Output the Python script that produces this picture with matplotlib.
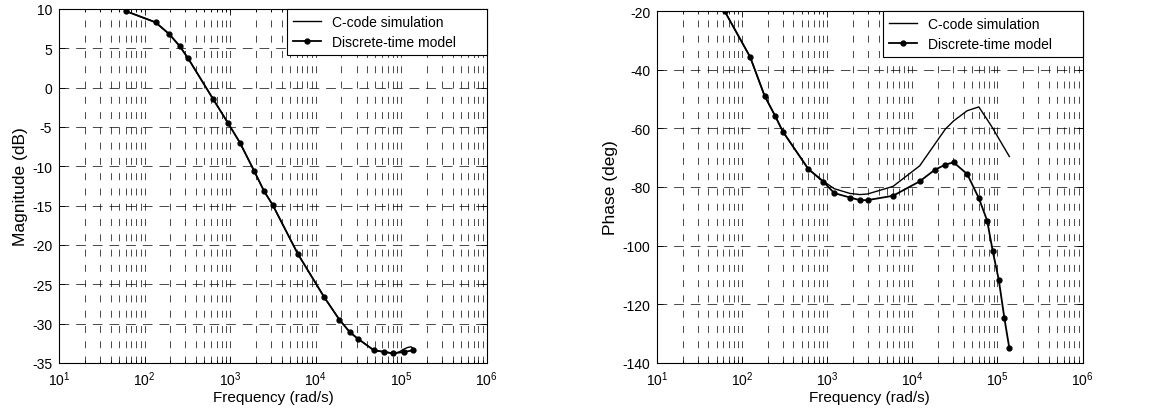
"""Bode plot: C-code simulation vs discrete-time model."""

import matplotlib

matplotlib.use("Agg")
import matplotlib.pyplot as plt
from matplotlib.ticker import LogLocator, MultipleLocator, NullLocator

plt.rcParams["font.family"] = ["Liberation Sans", "DejaVu Sans"]
plt.rcParams["font.size"] = 10
plt.rcParams["mathtext.fontset"] = "custom"
plt.rcParams["mathtext.rm"] = "Liberation Sans"
plt.rcParams["mathtext.it"] = "Liberation Sans"
plt.rcParams["axes.unicode_minus"] = False
plt.rcParams["lines.scale_dashes"] = False

# Magnitude (dB), discrete-time model markers
mag_freq = [61, 134, 194, 258, 323, 631, 942, 1300, 1897, 2500, 3135, 6150,
            12500, 18900, 25100, 30900, 47900, 63400, 81000, 108000, 138000]
mag_model = [9.7, 8.3, 6.8, 5.25, 3.7, -1.45, -4.5, -7.0, -10.55, -13.2, -14.9, -21.1,
             -26.6, -29.5, -31.1, -31.9, -33.4, -33.6, -33.8, -33.6, -33.4]

# Magnitude (dB), C-code simulation
mag_sim_freq = [61, 134, 194, 258, 323, 631, 942, 1300, 1897, 2500, 3135, 6150,
                12500, 18900, 25100, 30900, 47900, 63400, 81000, 95000, 105000,
                118000, 130000, 140000]
mag_sim = [9.7, 8.3, 6.8, 5.25, 3.7, -1.45, -4.5, -7.0, -10.55, -13.2, -14.9, -21.1,
           -26.6, -29.5, -31.1, -31.9, -33.4, -33.6, -33.8, -33.6, -33.3,
           -33.05, -32.95, -33.2]

# Phase (deg), discrete-time model markers
ph_freq = [62, 124, 183, 244, 300, 599, 897, 1208, 1845, 2414, 2972, 5930,
           12190, 18270, 24380, 30500, 44100, 60400, 75700, 88200, 103700,
           120800, 138000]
ph_model = [-20, -35.7, -48.9, -55.8, -61.1, -73.9, -78.2, -82.1, -83.6, -84.5, -84.5, -83.0,
            -78.1, -74.2, -72.4, -71.6, -75.6, -83.8, -91.5, -102.0, -111.7,
            -124.8, -135.0]

# Phase (deg), C-code simulation
ph_sim_freq = [62, 124, 183, 244, 300, 599, 897, 1208, 1845, 2414, 2972, 5930,
               12190, 18270, 24380, 30500, 44100, 60400, 75700, 88200, 103700, 138000]
ph_sim = [-20, -35.7, -48.9, -55.8, -61.1, -73.9, -78.0, -80.6, -82.2, -82.6, -82.4, -79.8,
          -72.8, -65.5, -60.3, -57.5, -54.0, -52.7, -57.0, -60.0, -63.5, -69.6]

SIM_LABEL = "C-code simulation"
MODEL_LABEL = "Discrete-time model"


def style_axes(ax, ylim, ystep, ylabel, legend_x0):
    ax.set_xscale("log")
    ax.set_xlim(10, 1e6)
    ax.set_ylim(*ylim)
    ax.yaxis.set_major_locator(MultipleLocator(ystep))
    ax.yaxis.set_minor_locator(NullLocator())
    ax.xaxis.set_major_locator(LogLocator(base=10, numticks=10))
    ax.xaxis.set_minor_locator(LogLocator(base=10, subs=range(2, 10), numticks=20))
    ax.tick_params(which="both", direction="in", top=True, right=True,
                   width=0.6, labelsize=10, pad=5)
    ax.tick_params(which="major", length=4)
    ax.tick_params(which="minor", length=2.5)
    ax.xaxis.grid(True, which="both", color="k", linewidth=0.5, dashes=(5, 6))
    ax.yaxis.grid(True, which="major", color="k", linewidth=0.5, dashes=(7, 5))
    for spine in ax.spines.values():
        spine.set_linewidth(0.8)
    ax.set_xlabel("Frequency (rad/s)", fontsize=11, labelpad=1)
    ax.set_ylabel(ylabel, fontsize=12.5, labelpad=3)
    # MATLAB-style legend box with extra room on the right
    leg = ax.legend(loc="upper right", bbox_to_anchor=(legend_x0, 0.0, 1.0 - legend_x0, 1.0),
                    mode="expand", borderaxespad=0, fancybox=False,
                    edgecolor="k", framealpha=1, handlelength=2.0,
                    fontsize=10, borderpad=0.45, labelspacing=0.4)
    leg.get_frame().set_linewidth(0.8)


fig = plt.figure(figsize=(11.59, 4.14), dpi=100)
ax1 = fig.add_axes([0.051, 0.121, 0.369, 0.855])
ax2 = fig.add_axes([0.567, 0.121, 0.367, 0.850])

ax1.plot(mag_sim_freq, mag_sim, color="k", linewidth=1.0, label=SIM_LABEL)
ax1.plot(mag_freq, mag_model, color="k", linewidth=1.3, marker="o",
         markersize=3.5, label=MODEL_LABEL)
style_axes(ax1, (-35, 10), 5, "Magnitude (dB)", 0.533)

ax2.plot(ph_sim_freq, ph_sim, color="k", linewidth=1.0, label=SIM_LABEL)
ax2.plot(ph_freq, ph_model, color="k", linewidth=1.3, marker="o",
         markersize=3.5, label=MODEL_LABEL)
style_axes(ax2, (-140, -20), 20, "Phase (deg)", 0.531)

fig.savefig("out.png", dpi=100)
